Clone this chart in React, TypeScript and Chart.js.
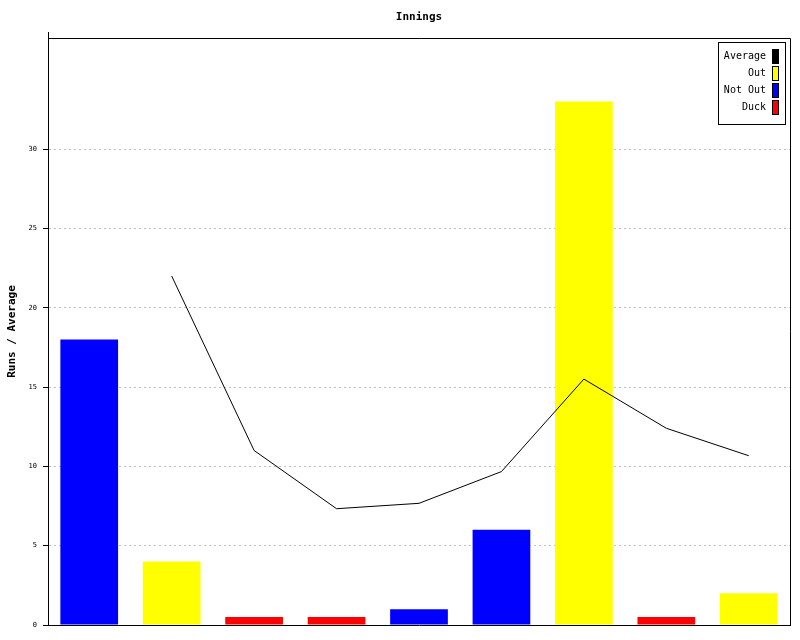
import React, { useEffect, useRef } from "react";
import { Chart, registerables } from "chart.js";

Chart.register(...registerables);

const categories = ["1", "2", "3", "4", "5", "6", "7", "8", "9"];
const barValues = [18, 4, 0.5, 0.5, 1, 6, 33, 0.5, 2];
const inningStatus = ["Not Out", "Out", "Duck", "Duck", "Not Out", "Not Out", "Out", "Duck", "Out"];
const averageValues = [null, 22, 11, 7.33, 7.67, 9.67, 15.5, 12.4, 10.67];
const legendLabels = ["Average", "Out", "Not Out", "Duck"];
const yTickMax = 30;

const statusColors: Record<string, string> = {
  Average: "#000000",
  Out: "#ffff00",
  "Not Out": "#0000ff",
  Duck: "#ff0000",
};

const MONO = "'DejaVu Sans Mono', 'Liberation Mono', monospace";

const framePlugin = {
  id: "framePlugin",
  afterDraw(chart: any) {
    const { ctx, chartArea } = chart;
    const { left, right, top, bottom } = chartArea;
    ctx.save();
    ctx.strokeStyle = "#000";
    ctx.lineWidth = 1;
    ctx.beginPath();
    ctx.moveTo(Math.round(left) + 0.5, top - 6);
    ctx.lineTo(Math.round(left) + 0.5, top);
    ctx.moveTo(left, Math.round(top) + 0.5);
    ctx.lineTo(Math.round(right) + 0.5, Math.round(top) + 0.5);
    ctx.moveTo(Math.round(right) + 0.5, Math.round(top) + 0.5);
    ctx.lineTo(Math.round(right) + 0.5, bottom);
    ctx.stroke();

    // title centered over the plot area
    ctx.fillStyle = "#000";
    ctx.font = `bold 11px ${MONO}`;
    ctx.textAlign = "center";
    ctx.textBaseline = "middle";
    ctx.fillText("Innings", (left + right) / 2, 17);

    // legend box
    const bw = 67;
    const bh = 82;
    const bx = Math.round(right) - 5 - bw;
    const by = Math.round(top) + 4;
    ctx.fillStyle = "#fff";
    ctx.fillRect(bx, by, bw, bh);
    ctx.strokeRect(bx + 0.5, by + 0.5, bw, bh);
    ctx.font = `10px ${MONO}`;
    ctx.textAlign = "right";
    legendLabels.forEach((lab, i) => {
      const cy = by + 14 + i * 17;
      ctx.fillStyle = "#000";
      ctx.fillText(lab, bx + bw - 19, cy);
      ctx.fillStyle = statusColors[lab];
      ctx.fillRect(bx + bw - 13, cy - 7, 6, 14);
      ctx.strokeStyle = "#000";
      ctx.strokeRect(bx + bw - 13 + 0.5, cy - 7 + 0.5, 6, 14);
    });
    ctx.restore();
  },
};

export default function App() {
  const ref = useRef<HTMLCanvasElement>(null);
  useEffect(() => {
    document.body.style.margin = "0";
    const canvas = ref.current;
    if (!canvas) return;
    const chart = new Chart(canvas, {
      data: {
        labels: categories,
        datasets: [
          {
            type: "line",
            label: "Average",
            data: averageValues as any,
            borderColor: "#000",
            borderWidth: 1,
            pointRadius: 0,
            fill: false,
            tension: 0,
            order: 0,
          },
          {
            type: "bar",
            label: "Runs",
            data: barValues,
            backgroundColor: inningStatus.map((s) => statusColors[s]),
            borderWidth: 0,
            barPercentage: 0.7,
            categoryPercentage: 1,
            order: 1,
          },
        ],
      },
      options: {
        responsive: false,
        animation: false,
        layout: { padding: { left: 0, right: 10, top: 38, bottom: 15 } },
        plugins: {
          legend: { display: false },
          title: { display: false },
          tooltip: { enabled: false },
        },
        scales: {
          x: {
            type: "category",
            grid: { display: false },
            ticks: { display: false },
            border: { display: true, color: "#000", width: 1 },
            afterFit: (s: any) => {
              s.height = 0;
            },
          },
          y: {
            type: "linear",
            min: 0,
            max: 37,
            ticks: {
              stepSize: 5,
              color: "#000",
              padding: 6,
              font: { family: MONO, size: 7 },
            },
            afterBuildTicks: (s: any) => {
              s.ticks = s.ticks.filter((t: any) => t.value <= yTickMax);
            },
            afterFit: (s: any) => {
              s.width = 48;
            },
            grid: {
              color: (c: any) => (c.tick && c.tick.value === 0 ? "rgba(0,0,0,0)" : "#c0c0c0"),
              tickColor: "#000",
              tickLength: 5,
              lineWidth: 1,
            },
            border: { display: true, color: "#000", width: 1, dash: [2, 3] },
            title: {
              display: true,
              text: "Runs / Average",
              color: "#000",
              font: { family: MONO, size: 11, weight: "bold" },
              padding: { top: 6, bottom: 0 },
            },
          },
        },
      },
      plugins: [framePlugin],
    } as any);
    return () => chart.destroy();
  }, []);
  return (
    <div style={{ width: 800, height: 640 }}>
      <canvas ref={ref} width={800} height={640} />
    </div>
  );
}
